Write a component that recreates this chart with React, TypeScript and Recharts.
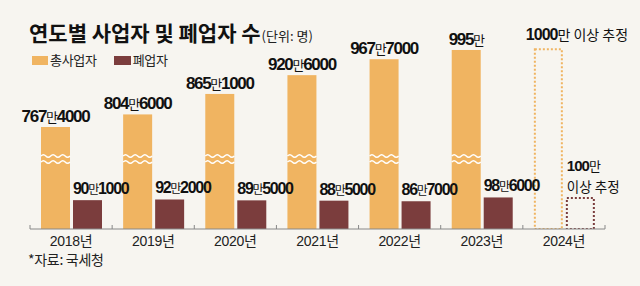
import React from 'react';
import { BarChart, Bar, XAxis, YAxis, LabelList } from 'recharts';

// 단위: 명
const years = ['2018년', '2019년', '2020년', '2021년', '2022년', '2023년', '2024년'];
const totalBusinesses = [7674000, 8046000, 8651000, 9206000, 9677000, 9950000, 10000000];
const closedBusinesses = [901000, 922000, 895000, 885000, 867000, 986000, 1000000];
const isEstimate = [false, false, false, false, false, false, true];

const data = years.map((year, i) => ({
    year,
    total: totalBusinesses[i],
    closed: closedBusinesses[i],
    estimate: isEstimate[i],
}));

const ORANGE = '#f0b461';
const MAROON = '#7b3d3d';
const BG = '#f7f5f0';
const FONT = '"Liberation Sans", Arial, "Noto Sans CJK KR", sans-serif';
const KR_FONT = '"Noto Sans CJK KR", "Noto Sans", sans-serif';

const MARGIN = { top: 29, right: 35, left: 30, bottom: 27 };
const BAND = (640 - MARGIN.left - MARGIN.right) / years.length;

const splitMan = (v: number) => [Math.floor(v / 10000), v % 10000];

const wavePath = (x: number, wy: number, width: number) => {
    const seg = width / 6;
    let d = `M${x},${wy}`;
    for (let k = 0; k < 6; k++) {
        d += ` q${seg / 2},${k % 2 === 0 ? -2.6 : 2.6} ${seg},0`;
    }
    return d;
};

const TotalShape = (props: any) => {
    const { x, y, width, height, index } = props;
    if (isEstimate[index]) {
        return (
            <rect x={x + 1} y={y + 1} width={width - 2} height={height - 1}
                fill="none" stroke={ORANGE} strokeWidth={2} strokeDasharray="2 2" />
        );
    }
    const base = y + height;
    return (
        <g>
            <rect x={x} y={y} width={width} height={height} fill={ORANGE} />
            <path d={wavePath(x, base - 73, width)} fill="none" stroke="#fff" strokeWidth={1.4} />
            <path d={wavePath(x, base - 67, width)} fill="none" stroke="#fff" strokeWidth={1.4} />
        </g>
    );
};

const ClosedShape = (props: any) => {
    const { x, y, width, height, index } = props;
    if (isEstimate[index]) {
        return (
            <rect x={x + 1} y={y + 1} width={width - 2} height={height - 1}
                fill="none" stroke={MAROON} strokeWidth={2} strokeDasharray="2 2" />
        );
    }
    return <rect x={x} y={y} width={width} height={height} fill={MAROON} />;
};

const NumLabel = ({ x, y, anchor, value, size }: any) => {
    const [man, rest] = splitMan(value);
    return (
        <text x={x} y={y} textAnchor={anchor} fill="#111" fontFamily={FONT} letterSpacing={-1.3}>
            <tspan fontWeight={700} fontSize={size}>{man}</tspan>
            <tspan fontFamily={KR_FONT} fontSize={size - 4}>만</tspan>
            {rest > 0 && <tspan fontWeight={700} fontSize={size}>{rest}</tspan>}
        </text>
    );
};

const TotalLabel = (props: any) => {
    const { x, y, width, value, index } = props;
    if (isEstimate[index]) {
        const [man] = splitMan(value);
        return (
            <text x={x - 8} y={y - 8} fill="#111">
                <tspan fontFamily={FONT} fontWeight={700} fontSize={16} letterSpacing={-1}>{man}</tspan>
                <tspan fontFamily={KR_FONT} fontSize={14}>만 이상 추정</tspan>
            </text>
        );
    }
    return <NumLabel x={x + width / 2} y={y - 5} anchor="middle" value={value} size={17} />;
};

const ClosedLabel = (props: any) => {
    const { x, y, value, index } = props;
    if (isEstimate[index]) {
        const [man] = splitMan(value);
        return (
            <g>
                <text x={x + 1} y={y - 26} fill="#111">
                    <tspan fontFamily={FONT} fontWeight={700} fontSize={15} letterSpacing={-1}>{man}</tspan>
                    <tspan fontFamily={KR_FONT} fontSize={13}>만</tspan>
                </text>
                <text x={x + 1} y={y - 5} fill="#111" fontFamily={KR_FONT} fontSize={13.5}>이상 추정</text>
            </g>
        );
    }
    return <NumLabel x={x} y={y - 6} anchor="start" value={value} size={16} />;
};

const YearTick = (props: any) => {
    const { x, y, payload, index } = props;
    return (
        <g>
            <line x1={x - BAND / 2} x2={x - BAND / 2} y1={y - 4} y2={y} stroke="#888" />
            {index === years.length - 1 && (
                <line x1={x + BAND / 2} x2={x + BAND / 2} y1={y - 4} y2={y} stroke="#888" />
            )}
            <text x={x} y={y + 17} textAnchor="middle" fontSize={14} fontFamily={FONT}
                fill="#222" letterSpacing={-0.3}>
                {payload.value}
            </text>
        </g>
    );
};

export default function App() {
    return (
        <div style={{ position: 'absolute', left: 0, top: 0, width: 640, height: 286, background: BG, overflow: 'hidden' }}>
            <BarChart width={640} height={286} data={data} margin={MARGIN} barGap={3}>
                <XAxis dataKey="year" height={30} interval={0} axisLine={{ stroke: '#888' }}
                    tickLine={false} tickSize={0} tickMargin={0} tick={<YearTick />} />
                <YAxis yAxisId="total" hide domain={[4660000, 10570000]} allowDataOverflow />
                <YAxis yAxisId="closed" hide domain={[0, 6250000]} allowDataOverflow />
                <Bar dataKey="total" yAxisId="total" barSize={29} shape={TotalShape} isAnimationActive={false}>
                    <LabelList dataKey="total" content={TotalLabel} />
                </Bar>
                <Bar dataKey="closed" yAxisId="closed" barSize={29} shape={ClosedShape} isAnimationActive={false}>
                    <LabelList dataKey="closed" content={ClosedLabel} />
                </Bar>
            </BarChart>

            <div style={{ position: 'absolute', left: 29, top: 20, fontFamily: KR_FONT, color: '#111', lineHeight: '24px', whiteSpace: 'nowrap' }}>
                <span style={{ fontSize: 21, fontWeight: 700, letterSpacing: 0 }}>연도별 사업자 및 폐업자 수</span>
                <span style={{ fontSize: 13, marginLeft: 1, color: '#222' }}>(단위: 명)</span>
            </div>

            <div style={{ position: 'absolute', left: 32, top: 51, fontFamily: KR_FONT, fontSize: 13, color: '#222', display: 'flex', alignItems: 'center', lineHeight: '18px', letterSpacing: -0.3 }}>
                <span style={{ display: 'inline-block', width: 16, height: 9, background: ORANGE, marginRight: 2 }} />
                <span>총사업자</span>
                <span style={{ display: 'inline-block', width: 17, height: 9, background: MAROON, marginLeft: 17, marginRight: 2 }} />
                <span>폐업자</span>
            </div>

            <div style={{ position: 'absolute', left: 28, top: 250, fontFamily: KR_FONT, fontSize: 14, color: '#222', lineHeight: '18px', letterSpacing: -0.3 }}>
                *자료: 국세청
            </div>
        </div>
    );
}
